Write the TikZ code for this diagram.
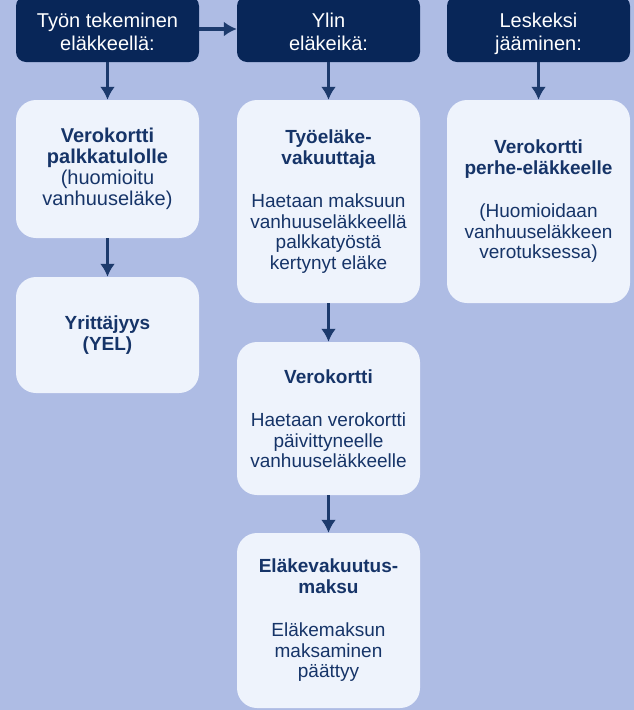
\documentclass[tikz,border=0pt]{standalone}
\usepackage{fontspec}
\setmainfont{Liberation Sans}
\usetikzlibrary{shapes, arrows.meta, positioning}
\definecolor{bgblue}{RGB}{174,188,228}
\definecolor{navy}{RGB}{8,38,88}
\definecolor{cardfill}{RGB}{238,243,252}
\definecolor{ink}{RGB}{22,52,104}
\definecolor{arrowblue}{RGB}{28,58,108}
\tikzstyle{head} = [fill=navy, text=white, rectangle, rounded corners=10pt, minimum width=183pt, minimum height=66pt, inner sep=0pt, align=center, text height=42pt, text depth=0pt, font=\fontsize{20}{23}\selectfont]
\tikzstyle{card} = [fill=cardfill, text=ink, rectangle, rounded corners=20pt, minimum width=183pt, inner sep=0pt, align=center, font=\fontsize{19}{20.5}\selectfont]
\tikzstyle{link} = [-{Latex[length=13pt,width=15pt]}, draw=arrowblue, line width=3.5pt]

\begin{document}
\begin{tikzpicture}
  \useasboundingbox (0,0) rectangle (634pt,-710pt);
  \fill[bgblue] (0,0) rectangle (634pt,-710pt);

  \node[head] (h1) at (107.5pt,-29pt) {Työn tekeminen\\eläkkeellä:};
  \node[head, right of=h1, node distance=221pt] (h2) {Ylin\\eläkeikä:};
  \node[head, right of=h2, node distance=210pt] (h3) {Leskeksi\\jääminen:};

  \node[card, below of=h1, node distance=140pt, minimum height=138pt, font=\fontsize{20}{21}\selectfont] (c1) {\textbf{Verokortti}\\\textbf{palkkatulolle}\\(huomioitu\\vanhuuseläke)};
  \node[card, below of=c1, node distance=166pt, minimum height=116pt] (c2) {\textbf{Yrittäjyys}\\\textbf{(YEL)}};

  \node[card, below of=h2, node distance=172.5pt, minimum height=203pt] (c3) {\textbf{Työeläke-}\\\textbf{vakuuttaja}\\[23pt]Haetaan maksuun\\vanhuuseläkkeellä\\palkkatyöstä\\kertynyt eläke};
  \node[card, below of=c3, node distance=217pt, minimum height=153pt] (c4) {\textbf{Verokortti}\\[23pt]Haetaan verokortti\\päivittyneelle\\vanhuuseläkkeelle};
  \node[card, below of=c4, node distance=202pt, minimum height=175pt] (c5) {\textbf{Eläkevakuutus-}\\\textbf{maksu}\\[23pt]Eläkemaksun\\maksaminen\\päättyy};

  \node[card, below of=h3, node distance=172.5pt, minimum height=203pt] (c6) {\textbf{Verokortti}\\\textbf{perhe-eläkkeelle}\\[23pt](Huomioidaan\\vanhuuseläkkeen\\verotuksessa)};

  \draw[link] (h1) -- (h2);
  \draw[link] (h1) -- (c1);
  \draw[link] (c1) -- (c2);
  \draw[link] (h2) -- (c3);
  \draw[link] (c3) -- (c4);
  \draw[link] (c4) -- (c5);
  \draw[link] (h3) -- (c6);

\end{tikzpicture}
\end{document}
